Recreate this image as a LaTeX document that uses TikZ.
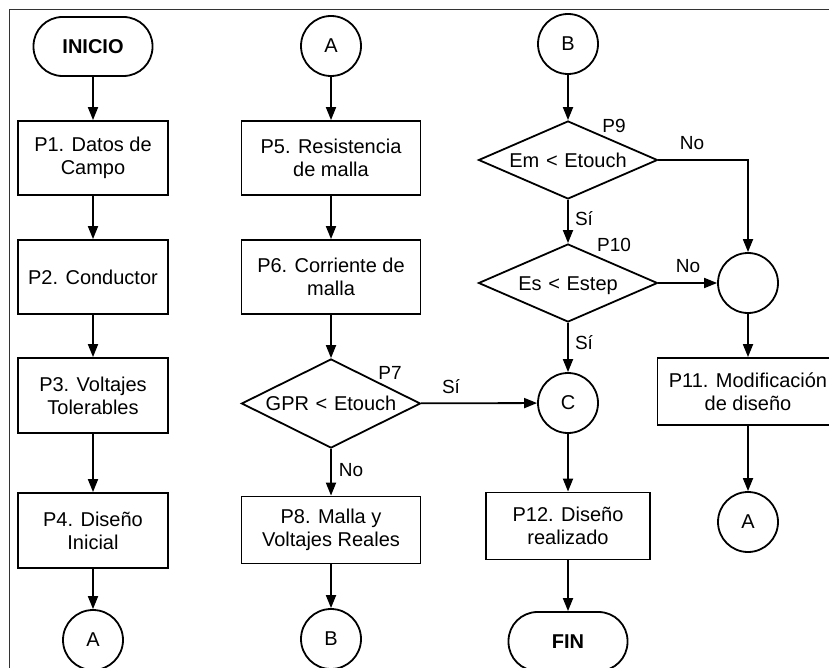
\documentclass[tikz,border=0pt]{standalone}
\usepackage{fontspec}
\setmainfont{Liberation Sans}
\usetikzlibrary{shapes.geometric,arrows.meta}
\newcommand{\dtext}[1]{\makebox[0pt]{\raisebox{-0.36em}[0pt][0pt]{#1}}}
\begin{document}
\begin{tikzpicture}[x=1pt,y=-1pt,
  every node/.style={font=\fontsize{20}{23}\selectfont, inner sep=0pt},
  box/.style={draw, line width=1.8pt, rectangle, align=center},
  term/.style={draw, line width=1.8pt, rectangle, rounded corners=29pt, minimum width=119pt, minimum height=59pt, font=\fontsize{20}{23}\selectfont\bfseries},
  conn/.style={draw, line width=1.8pt, circle, minimum size=60pt},
  dec/.style={draw, line width=1.8pt, diamond, minimum width=179pt, minimum height=78pt, text width=0pt, text height=0pt, text depth=0pt},
  lbl/.style={font=\fontsize{19}{22}\selectfont},
  arr/.style={line width=1.8pt, -{Triangle[length=13pt,width=10pt]}}
]
\useasboundingbox (0,0) rectangle (829,668);
\clip (0,0) rectangle (829,668);
\draw[line width=1pt, black!80] (9,700) -- (9,10) -- (840,10);

% column 1
\node[term] (ini) at (93,46.5) {INICIO};
\node[box, minimum width=150pt, minimum height=74pt] (p1) at (93,158) {P1. Datos de\\Campo};
\node[box, minimum width=150pt, minimum height=74pt] (p2) at (93,277) {P2. Conductor};
\node[box, minimum width=150pt, minimum height=75pt] (p3) at (93,395.5) {P3. Voltajes\\Tolerables};
\node[box, minimum width=150pt, minimum height=75pt] (p4) at (93,530.5) {P4. Diseño\\Inicial};
\node[conn] (a1) at (93,640) {A};

% column 2
\node[conn] (a2) at (331,46) {A};
\node[box, minimum width=179pt, minimum height=74pt] (p5) at (331,158) {P5. Resistencia\\de malla};
\node[box, minimum width=179pt, minimum height=74pt] (p6) at (331,277) {P6. Corriente de\\malla};
\node[dec, minimum height=89pt] (p7) at (331,403.5) {\dtext{GPR < Etouch}};
\node[box, minimum width=179pt, minimum height=67pt] (p8) at (331,530) {P8. Malla y\\Voltajes Reales};
\node[conn] (b1) at (331,639) {B};

% column 3
\node[conn] (b2) at (568,44) {B};
\node[dec] (p9) at (568,160) {\dtext{Em < Etouch}};
\node[dec] (p10) at (568,283) {\dtext{Es < Estep}};
\node[conn] (c) at (568,403) {C};
\node[box, minimum width=164pt, minimum height=67pt] (p12) at (568,526) {P12. Diseño\\realizado};
\node[term] (fin) at (568,641.5) {FIN};

% column 4
\node[conn] (e) at (748,283) {};
\node[box, minimum width=181pt, minimum height=67pt] (p11) at (748,391.5) {P11. Modificación\\de diseño};
\node[conn] (a3) at (748,522) {A};

% arrows
\draw[arr] (ini) -- (p1);
\draw[arr] (p1) -- (p2);
\draw[arr] (p2) -- (p3);
\draw[arr] (p3) -- (p4);
\draw[arr] (p4) -- (a1);
\draw[arr] (a2) -- (p5);
\draw[arr] (p5) -- (p6);
\draw[arr] (p6) -- (p7);
\draw[arr] (p7) -- (p8);
\draw[arr] (p8) -- (b1);
\draw[arr] (p7) -- (c);
\draw[arr] (b2) -- (p9);
\draw[arr] (p9) -- (p10);
\draw[arr] (p10) -- (c);
\draw[arr] (c) -- (p12);
\draw[arr] (p12) -- (fin);
\draw[arr] (p9.east) -| (e.north);
\draw[arr] (p10) -- (e);
\draw[arr] (e) -- (p11);
\draw[arr] (p11) -- (a3);

% labels
\node[lbl] (l7) at (390,373) {P7};
\node[lbl] (l7s) at (451,387) {Sí};
\node[lbl] (l7n) at (351,470) {No};
\node[lbl] (l9) at (614,126) {P9};
\node[lbl] (l9n) at (692,143) {No};
\node[lbl] (l9s) at (584,219) {Sí};
\node[lbl] (l10) at (614,245) {P10};
\node[lbl] (l10n) at (688,266) {No};
\node[lbl] (l10s) at (584,343) {Sí};
\end{tikzpicture}
\end{document}
